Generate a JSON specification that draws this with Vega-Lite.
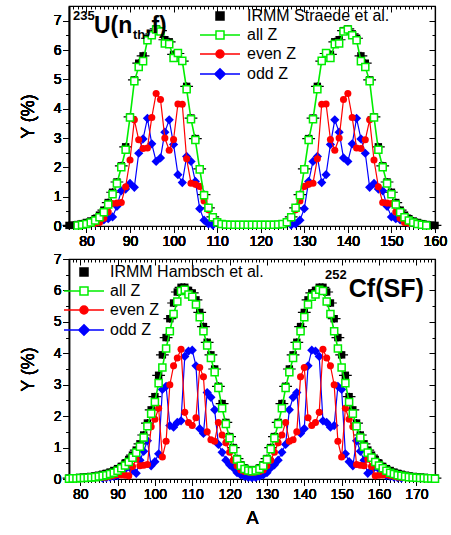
{
"$schema":"https://vega.github.io/schema/vega-lite/v6.json",
"padding":{"left":18,"top":4,"right":5,"bottom":5},
"bounds":"flush",
"spacing":33,
"config":{"view":{"stroke":"black","strokeWidth":1.2},"font":"Liberation Sans",
"axis":{"domainColor":"black","tickColor":"black","labelColor":"black","titleColor":"black","grid":false,"labelFont":"Liberation Sans","titleFont":"Liberation Sans","labelFontSize":14,"titleFontSize":18,"titleFontWeight":"normal","domainWidth":1.2,"tickWidth":1}},
"datasets":{
"top":[
{"s":"I","A":76,"Y":0.02},{"s":"I","A":77,"Y":0.03},{"s":"I","A":78,"Y":0.05},{"s":"I","A":79,"Y":0.08},{"s":"I","A":80,"Y":0.12},{"s":"I","A":81,"Y":0.17},{"s":"I","A":82,"Y":0.25},{"s":"I","A":83,"Y":0.37},{"s":"I","A":84,"Y":0.54},{"s":"I","A":85,"Y":0.8},{"s":"I","A":86,"Y":1.15},{"s":"I","A":87,"Y":1.5},{"s":"I","A":88,"Y":2.05},{"s":"I","A":89,"Y":2.7},{"s":"I","A":90,"Y":3.72},{"s":"I","A":91,"Y":4.98},{"s":"I","A":92,"Y":5.55},{"s":"I","A":93,"Y":5.8},{"s":"I","A":94,"Y":6.4},{"s":"I","A":95,"Y":6.55},{"s":"I","A":96,"Y":6.72},{"s":"I","A":97,"Y":6.66},{"s":"I","A":98,"Y":6.35},{"s":"I","A":99,"Y":6.28},{"s":"I","A":100,"Y":5.85},{"s":"I","A":101,"Y":5.88},{"s":"I","A":102,"Y":5.62},{"s":"I","A":103,"Y":4.76},{"s":"I","A":104,"Y":3.68},{"s":"I","A":105,"Y":2.98},{"s":"I","A":106,"Y":1.95},{"s":"I","A":107,"Y":1.07},{"s":"I","A":108,"Y":0.62},{"s":"I","A":109,"Y":0.31},{"s":"I","A":110,"Y":0.14},{"s":"I","A":111,"Y":0.07},{"s":"I","A":112,"Y":0.04},{"s":"I","A":113,"Y":0.03},{"s":"I","A":114,"Y":0.03},{"s":"I","A":115,"Y":0.03},{"s":"I","A":116,"Y":0.03},{"s":"I","A":117,"Y":0.03},{"s":"I","A":118,"Y":0.03},{"s":"I","A":119,"Y":0.03},{"s":"I","A":120,"Y":0.03},{"s":"I","A":121,"Y":0.03},{"s":"I","A":122,"Y":0.03},{"s":"I","A":123,"Y":0.03},{"s":"I","A":124,"Y":0.04},{"s":"I","A":125,"Y":0.07},{"s":"I","A":126,"Y":0.14},{"s":"I","A":127,"Y":0.31},{"s":"I","A":128,"Y":0.62},{"s":"I","A":129,"Y":1.07},{"s":"I","A":130,"Y":1.95},{"s":"I","A":131,"Y":2.98},{"s":"I","A":132,"Y":3.68},{"s":"I","A":133,"Y":4.76},{"s":"I","A":134,"Y":5.62},{"s":"I","A":135,"Y":5.88},{"s":"I","A":136,"Y":5.85},{"s":"I","A":137,"Y":6.28},{"s":"I","A":138,"Y":6.35},{"s":"I","A":139,"Y":6.66},{"s":"I","A":140,"Y":6.72},{"s":"I","A":141,"Y":6.55},{"s":"I","A":142,"Y":6.4},{"s":"I","A":143,"Y":5.8},{"s":"I","A":144,"Y":5.55},{"s":"I","A":145,"Y":4.98},{"s":"I","A":146,"Y":3.72},{"s":"I","A":147,"Y":2.7},{"s":"I","A":148,"Y":2.05},{"s":"I","A":149,"Y":1.5},{"s":"I","A":150,"Y":1.15},{"s":"I","A":151,"Y":0.8},{"s":"I","A":152,"Y":0.54},{"s":"I","A":153,"Y":0.37},{"s":"I","A":154,"Y":0.25},{"s":"I","A":155,"Y":0.17},{"s":"I","A":156,"Y":0.12},{"s":"I","A":157,"Y":0.08},{"s":"I","A":158,"Y":0.05},{"s":"I","A":159,"Y":0.03},{"s":"I","A":160,"Y":0.02},
{"s":"a","A":78,"Y":0.02},{"s":"a","A":79,"Y":0.04},{"s":"a","A":80,"Y":0.07},{"s":"a","A":81,"Y":0.12},{"s":"a","A":82,"Y":0.19},{"s":"a","A":83,"Y":0.3},{"s":"a","A":84,"Y":0.47},{"s":"a","A":85,"Y":0.73},{"s":"a","A":86,"Y":1.08},{"s":"a","A":87,"Y":1.45},{"s":"a","A":88,"Y":2.0},{"s":"a","A":89,"Y":2.6},{"s":"a","A":90,"Y":3.7},{"s":"a","A":91,"Y":4.94},{"s":"a","A":92,"Y":5.42},{"s":"a","A":93,"Y":5.62},{"s":"a","A":94,"Y":6.33},{"s":"a","A":95,"Y":6.5},{"s":"a","A":96,"Y":6.7},{"s":"a","A":97,"Y":6.63},{"s":"a","A":98,"Y":6.22},{"s":"a","A":99,"Y":6.2},{"s":"a","A":100,"Y":5.73},{"s":"a","A":101,"Y":5.9},{"s":"a","A":102,"Y":5.63},{"s":"a","A":103,"Y":4.66},{"s":"a","A":104,"Y":3.64},{"s":"a","A":105,"Y":2.93},{"s":"a","A":106,"Y":1.93},{"s":"a","A":107,"Y":1.05},{"s":"a","A":108,"Y":0.62},{"s":"a","A":109,"Y":0.3},{"s":"a","A":110,"Y":0.13},{"s":"a","A":111,"Y":0.07},{"s":"a","A":112,"Y":0.05},{"s":"a","A":113,"Y":0.04},{"s":"a","A":114,"Y":0.04},{"s":"a","A":115,"Y":0.04},{"s":"a","A":116,"Y":0.04},{"s":"a","A":117,"Y":0.04},{"s":"a","A":118,"Y":0.04},{"s":"a","A":119,"Y":0.04},{"s":"a","A":120,"Y":0.04},{"s":"a","A":121,"Y":0.04},{"s":"a","A":122,"Y":0.04},{"s":"a","A":123,"Y":0.04},{"s":"a","A":124,"Y":0.05},{"s":"a","A":125,"Y":0.07},{"s":"a","A":126,"Y":0.13},{"s":"a","A":127,"Y":0.3},{"s":"a","A":128,"Y":0.62},{"s":"a","A":129,"Y":1.05},{"s":"a","A":130,"Y":1.93},{"s":"a","A":131,"Y":2.93},{"s":"a","A":132,"Y":3.64},{"s":"a","A":133,"Y":4.66},{"s":"a","A":134,"Y":5.63},{"s":"a","A":135,"Y":5.9},{"s":"a","A":136,"Y":5.73},{"s":"a","A":137,"Y":6.2},{"s":"a","A":138,"Y":6.22},{"s":"a","A":139,"Y":6.63},{"s":"a","A":140,"Y":6.7},{"s":"a","A":141,"Y":6.5},{"s":"a","A":142,"Y":6.33},{"s":"a","A":143,"Y":5.62},{"s":"a","A":144,"Y":5.42},{"s":"a","A":145,"Y":4.94},{"s":"a","A":146,"Y":3.7},{"s":"a","A":147,"Y":2.6},{"s":"a","A":148,"Y":2.0},{"s":"a","A":149,"Y":1.45},{"s":"a","A":150,"Y":1.08},{"s":"a","A":151,"Y":0.73},{"s":"a","A":152,"Y":0.47},{"s":"a","A":153,"Y":0.3},{"s":"a","A":154,"Y":0.19},{"s":"a","A":155,"Y":0.12},{"s":"a","A":156,"Y":0.07},{"s":"a","A":157,"Y":0.04},{"s":"a","A":158,"Y":0.02},
{"s":"e","A":82,"Y":0.09},{"s":"e","A":83,"Y":0.12},{"s":"e","A":84,"Y":0.26},{"s":"e","A":85,"Y":0.48},{"s":"e","A":86,"Y":0.77},{"s":"e","A":87,"Y":0.78},{"s":"e","A":88,"Y":0.8},{"s":"e","A":89,"Y":1.34},{"s":"e","A":90,"Y":2.25},{"s":"e","A":91,"Y":3.62},{"s":"e","A":92,"Y":2.94},{"s":"e","A":93,"Y":2.64},{"s":"e","A":94,"Y":2.66},{"s":"e","A":95,"Y":3.7},{"s":"e","A":96,"Y":4.52},{"s":"e","A":97,"Y":4.31},{"s":"e","A":98,"Y":3.0},{"s":"e","A":99,"Y":2.58},{"s":"e","A":100,"Y":2.95},{"s":"e","A":101,"Y":4.16},{"s":"e","A":102,"Y":4.15},{"s":"e","A":103,"Y":2.29},{"s":"e","A":104,"Y":1.46},{"s":"e","A":105,"Y":1.42},{"s":"e","A":106,"Y":1.35},{"s":"e","A":107,"Y":0.85},{"s":"e","A":108,"Y":0.55},{"s":"e","A":109,"Y":0.27},{"s":"e","A":110,"Y":0.11},
{"s":"e","A":126,"Y":0.11},{"s":"e","A":127,"Y":0.27},{"s":"e","A":128,"Y":0.55},{"s":"e","A":129,"Y":0.85},{"s":"e","A":130,"Y":1.35},{"s":"e","A":131,"Y":1.42},{"s":"e","A":132,"Y":1.46},{"s":"e","A":133,"Y":2.29},{"s":"e","A":134,"Y":4.15},{"s":"e","A":135,"Y":4.16},{"s":"e","A":136,"Y":2.95},{"s":"e","A":137,"Y":2.58},{"s":"e","A":138,"Y":3.0},{"s":"e","A":139,"Y":4.31},{"s":"e","A":140,"Y":4.52},{"s":"e","A":141,"Y":3.7},{"s":"e","A":142,"Y":2.66},{"s":"e","A":143,"Y":2.64},{"s":"e","A":144,"Y":2.94},{"s":"e","A":145,"Y":3.62},{"s":"e","A":146,"Y":2.25},{"s":"e","A":147,"Y":1.34},{"s":"e","A":148,"Y":0.8},{"s":"e","A":149,"Y":0.78},{"s":"e","A":150,"Y":0.77},{"s":"e","A":151,"Y":0.48},{"s":"e","A":152,"Y":0.26},{"s":"e","A":153,"Y":0.12},{"s":"e","A":154,"Y":0.09},
{"s":"o","A":82,"Y":0.1},{"s":"o","A":83,"Y":0.18},{"s":"o","A":84,"Y":0.21},{"s":"o","A":85,"Y":0.25},{"s":"o","A":86,"Y":0.31},{"s":"o","A":87,"Y":0.67},{"s":"o","A":88,"Y":1.2},{"s":"o","A":89,"Y":1.26},{"s":"o","A":90,"Y":1.45},{"s":"o","A":91,"Y":1.32},{"s":"o","A":92,"Y":2.48},{"s":"o","A":93,"Y":2.97},{"s":"o","A":94,"Y":3.67},{"s":"o","A":95,"Y":2.8},{"s":"o","A":96,"Y":2.2},{"s":"o","A":97,"Y":2.32},{"s":"o","A":98,"Y":3.2},{"s":"o","A":99,"Y":3.62},{"s":"o","A":100,"Y":2.78},{"s":"o","A":101,"Y":1.75},{"s":"o","A":102,"Y":1.48},{"s":"o","A":103,"Y":2.37},{"s":"o","A":104,"Y":2.2},{"s":"o","A":105,"Y":1.52},{"s":"o","A":106,"Y":0.59},{"s":"o","A":107,"Y":0.2},{"s":"o","A":108,"Y":0.07},{"s":"o","A":109,"Y":0.03},
{"s":"o","A":127,"Y":0.03},{"s":"o","A":128,"Y":0.07},{"s":"o","A":129,"Y":0.2},{"s":"o","A":130,"Y":0.59},{"s":"o","A":131,"Y":1.52},{"s":"o","A":132,"Y":2.2},{"s":"o","A":133,"Y":2.37},{"s":"o","A":134,"Y":1.48},{"s":"o","A":135,"Y":1.75},{"s":"o","A":136,"Y":2.78},{"s":"o","A":137,"Y":3.62},{"s":"o","A":138,"Y":3.2},{"s":"o","A":139,"Y":2.32},{"s":"o","A":140,"Y":2.2},{"s":"o","A":141,"Y":2.8},{"s":"o","A":142,"Y":3.67},{"s":"o","A":143,"Y":2.97},{"s":"o","A":144,"Y":2.48},{"s":"o","A":145,"Y":1.32},{"s":"o","A":146,"Y":1.45},{"s":"o","A":147,"Y":1.26},{"s":"o","A":148,"Y":1.2},{"s":"o","A":149,"Y":0.67},{"s":"o","A":150,"Y":0.31},{"s":"o","A":151,"Y":0.25},{"s":"o","A":152,"Y":0.21},{"s":"o","A":153,"Y":0.18},{"s":"o","A":154,"Y":0.1}
],
"bot":[
{"s":"I","A":77,"Y":0.03},{"s":"I","A":78,"Y":0.03},{"s":"I","A":79,"Y":0.04},{"s":"I","A":80,"Y":0.05},{"s":"I","A":81,"Y":0.06},{"s":"I","A":82,"Y":0.07},{"s":"I","A":83,"Y":0.08},{"s":"I","A":84,"Y":0.1},{"s":"I","A":85,"Y":0.12},{"s":"I","A":86,"Y":0.15},{"s":"I","A":87,"Y":0.18},{"s":"I","A":88,"Y":0.22},{"s":"I","A":89,"Y":0.27},{"s":"I","A":90,"Y":0.33},{"s":"I","A":91,"Y":0.4},{"s":"I","A":92,"Y":0.5},{"s":"I","A":93,"Y":0.62},{"s":"I","A":94,"Y":0.76},{"s":"I","A":95,"Y":0.92},{"s":"I","A":96,"Y":1.12},{"s":"I","A":97,"Y":1.4},{"s":"I","A":98,"Y":1.78},{"s":"I","A":99,"Y":2.2},{"s":"I","A":100,"Y":2.62},{"s":"I","A":101,"Y":3.3},{"s":"I","A":102,"Y":3.95},{"s":"I","A":103,"Y":4.5},{"s":"I","A":104,"Y":5.1},{"s":"I","A":105,"Y":5.6},{"s":"I","A":106,"Y":5.95},{"s":"I","A":107,"Y":6.1},{"s":"I","A":108,"Y":6.1},{"s":"I","A":109,"Y":6.0},{"s":"I","A":110,"Y":5.92},{"s":"I","A":111,"Y":5.7},{"s":"I","A":112,"Y":5.3},{"s":"I","A":113,"Y":4.85},{"s":"I","A":114,"Y":4.35},{"s":"I","A":115,"Y":3.95},{"s":"I","A":116,"Y":3.5},{"s":"I","A":117,"Y":2.95},{"s":"I","A":118,"Y":2.4},{"s":"I","A":119,"Y":1.8},{"s":"I","A":120,"Y":1.35},{"s":"I","A":121,"Y":1.0},{"s":"I","A":122,"Y":0.65},{"s":"I","A":123,"Y":0.45},{"s":"I","A":124,"Y":0.35},{"s":"I","A":125,"Y":0.3},{"s":"I","A":126,"Y":0.28},{"s":"I","A":127,"Y":0.3},{"s":"I","A":128,"Y":0.35},{"s":"I","A":129,"Y":0.45},{"s":"I","A":130,"Y":0.65},{"s":"I","A":131,"Y":1.0},{"s":"I","A":132,"Y":1.35},{"s":"I","A":133,"Y":1.8},{"s":"I","A":134,"Y":2.4},{"s":"I","A":135,"Y":2.95},{"s":"I","A":136,"Y":3.5},{"s":"I","A":137,"Y":3.95},{"s":"I","A":138,"Y":4.35},{"s":"I","A":139,"Y":4.85},{"s":"I","A":140,"Y":5.3},{"s":"I","A":141,"Y":5.7},{"s":"I","A":142,"Y":5.92},{"s":"I","A":143,"Y":6.0},{"s":"I","A":144,"Y":6.1},{"s":"I","A":145,"Y":6.1},{"s":"I","A":146,"Y":5.95},{"s":"I","A":147,"Y":5.6},{"s":"I","A":148,"Y":5.1},{"s":"I","A":149,"Y":4.5},{"s":"I","A":150,"Y":3.95},{"s":"I","A":151,"Y":3.3},{"s":"I","A":152,"Y":2.62},{"s":"I","A":153,"Y":2.2},{"s":"I","A":154,"Y":1.78},{"s":"I","A":155,"Y":1.4},{"s":"I","A":156,"Y":1.12},{"s":"I","A":157,"Y":0.92},{"s":"I","A":158,"Y":0.76},{"s":"I","A":159,"Y":0.62},{"s":"I","A":160,"Y":0.5},{"s":"I","A":161,"Y":0.4},{"s":"I","A":162,"Y":0.33},{"s":"I","A":163,"Y":0.27},{"s":"I","A":164,"Y":0.22},{"s":"I","A":165,"Y":0.18},{"s":"I","A":166,"Y":0.15},{"s":"I","A":167,"Y":0.12},{"s":"I","A":168,"Y":0.1},{"s":"I","A":169,"Y":0.08},{"s":"I","A":170,"Y":0.07},{"s":"I","A":171,"Y":0.06},{"s":"I","A":172,"Y":0.05},{"s":"I","A":173,"Y":0.04},{"s":"I","A":174,"Y":0.03},{"s":"I","A":175,"Y":0.03},
{"s":"a","A":77,"Y":0.01},{"s":"a","A":78,"Y":0.02},{"s":"a","A":79,"Y":0.02},{"s":"a","A":80,"Y":0.03},{"s":"a","A":81,"Y":0.03},{"s":"a","A":82,"Y":0.04},{"s":"a","A":83,"Y":0.05},{"s":"a","A":84,"Y":0.06},{"s":"a","A":85,"Y":0.08},{"s":"a","A":86,"Y":0.1},{"s":"a","A":87,"Y":0.12},{"s":"a","A":88,"Y":0.16},{"s":"a","A":89,"Y":0.2},{"s":"a","A":90,"Y":0.26},{"s":"a","A":91,"Y":0.34},{"s":"a","A":92,"Y":0.43},{"s":"a","A":93,"Y":0.54},{"s":"a","A":94,"Y":0.68},{"s":"a","A":95,"Y":0.84},{"s":"a","A":96,"Y":1.03},{"s":"a","A":97,"Y":1.32},{"s":"a","A":98,"Y":1.68},{"s":"a","A":99,"Y":2.08},{"s":"a","A":100,"Y":2.45},{"s":"a","A":101,"Y":3.05},{"s":"a","A":102,"Y":3.55},{"s":"a","A":103,"Y":4.15},{"s":"a","A":104,"Y":4.7},{"s":"a","A":105,"Y":5.25},{"s":"a","A":106,"Y":5.65},{"s":"a","A":107,"Y":5.98},{"s":"a","A":108,"Y":6.02},{"s":"a","A":109,"Y":5.87},{"s":"a","A":110,"Y":5.8},{"s":"a","A":111,"Y":5.55},{"s":"a","A":112,"Y":5.15},{"s":"a","A":113,"Y":4.7},{"s":"a","A":114,"Y":4.25},{"s":"a","A":115,"Y":3.85},{"s":"a","A":116,"Y":3.4},{"s":"a","A":117,"Y":2.9},{"s":"a","A":118,"Y":2.25},{"s":"a","A":119,"Y":1.75},{"s":"a","A":120,"Y":1.3},{"s":"a","A":121,"Y":0.95},{"s":"a","A":122,"Y":0.62},{"s":"a","A":123,"Y":0.42},{"s":"a","A":124,"Y":0.32},{"s":"a","A":125,"Y":0.27},{"s":"a","A":126,"Y":0.25},{"s":"a","A":127,"Y":0.27},{"s":"a","A":128,"Y":0.32},{"s":"a","A":129,"Y":0.42},{"s":"a","A":130,"Y":0.62},{"s":"a","A":131,"Y":0.95},{"s":"a","A":132,"Y":1.3},{"s":"a","A":133,"Y":1.75},{"s":"a","A":134,"Y":2.25},{"s":"a","A":135,"Y":2.9},{"s":"a","A":136,"Y":3.4},{"s":"a","A":137,"Y":3.85},{"s":"a","A":138,"Y":4.25},{"s":"a","A":139,"Y":4.7},{"s":"a","A":140,"Y":5.15},{"s":"a","A":141,"Y":5.55},{"s":"a","A":142,"Y":5.8},{"s":"a","A":143,"Y":5.87},{"s":"a","A":144,"Y":6.02},{"s":"a","A":145,"Y":5.98},{"s":"a","A":146,"Y":5.65},{"s":"a","A":147,"Y":5.25},{"s":"a","A":148,"Y":4.7},{"s":"a","A":149,"Y":4.15},{"s":"a","A":150,"Y":3.55},{"s":"a","A":151,"Y":3.05},{"s":"a","A":152,"Y":2.45},{"s":"a","A":153,"Y":2.08},{"s":"a","A":154,"Y":1.68},{"s":"a","A":155,"Y":1.32},{"s":"a","A":156,"Y":1.03},{"s":"a","A":157,"Y":0.84},{"s":"a","A":158,"Y":0.68},{"s":"a","A":159,"Y":0.54},{"s":"a","A":160,"Y":0.43},{"s":"a","A":161,"Y":0.34},{"s":"a","A":162,"Y":0.26},{"s":"a","A":163,"Y":0.2},{"s":"a","A":164,"Y":0.16},{"s":"a","A":165,"Y":0.12},{"s":"a","A":166,"Y":0.1},{"s":"a","A":167,"Y":0.08},{"s":"a","A":168,"Y":0.06},{"s":"a","A":169,"Y":0.05},{"s":"a","A":170,"Y":0.04},{"s":"a","A":171,"Y":0.03},{"s":"a","A":172,"Y":0.03},{"s":"a","A":173,"Y":0.02},{"s":"a","A":174,"Y":0.02},{"s":"a","A":175,"Y":0.01},
{"s":"e","A":86,"Y":0.05},{"s":"e","A":87,"Y":0.06},{"s":"e","A":88,"Y":0.09},{"s":"e","A":89,"Y":0.11},{"s":"e","A":90,"Y":0.14},{"s":"e","A":91,"Y":0.13},{"s":"e","A":92,"Y":0.12},{"s":"e","A":93,"Y":0.1},{"s":"e","A":94,"Y":0.4},{"s":"e","A":95,"Y":0.63},{"s":"e","A":96,"Y":0.42},{"s":"e","A":97,"Y":0.44},{"s":"e","A":98,"Y":0.46},{"s":"e","A":99,"Y":1.66},{"s":"e","A":100,"Y":1.9},{"s":"e","A":101,"Y":2.25},{"s":"e","A":102,"Y":0.7},{"s":"e","A":103,"Y":1.2},{"s":"e","A":104,"Y":3.0},{"s":"e","A":105,"Y":3.6},{"s":"e","A":106,"Y":3.85},{"s":"e","A":107,"Y":4.13},{"s":"e","A":108,"Y":2.12},{"s":"e","A":109,"Y":1.8},{"s":"e","A":110,"Y":1.7},{"s":"e","A":111,"Y":1.95},{"s":"e","A":112,"Y":3.55},{"s":"e","A":113,"Y":3.25},{"s":"e","A":114,"Y":1.5},{"s":"e","A":115,"Y":1.25},{"s":"e","A":116,"Y":1.2},{"s":"e","A":117,"Y":1.8},{"s":"e","A":118,"Y":1.4},{"s":"e","A":119,"Y":1.15},{"s":"e","A":120,"Y":0.85},{"s":"e","A":121,"Y":0.6},{"s":"e","A":122,"Y":0.42},{"s":"e","A":123,"Y":0.29},{"s":"e","A":124,"Y":0.24},{"s":"e","A":125,"Y":0.22},{"s":"e","A":126,"Y":0.21},{"s":"e","A":127,"Y":0.22},{"s":"e","A":128,"Y":0.24},{"s":"e","A":129,"Y":0.29},{"s":"e","A":130,"Y":0.42},{"s":"e","A":131,"Y":0.6},{"s":"e","A":132,"Y":0.85},{"s":"e","A":133,"Y":1.15},{"s":"e","A":134,"Y":1.4},{"s":"e","A":135,"Y":1.8},{"s":"e","A":136,"Y":1.2},{"s":"e","A":137,"Y":1.25},{"s":"e","A":138,"Y":1.5},{"s":"e","A":139,"Y":3.25},{"s":"e","A":140,"Y":3.55},{"s":"e","A":141,"Y":1.95},{"s":"e","A":142,"Y":1.7},{"s":"e","A":143,"Y":1.8},{"s":"e","A":144,"Y":2.12},{"s":"e","A":145,"Y":4.13},{"s":"e","A":146,"Y":3.85},{"s":"e","A":147,"Y":3.6},{"s":"e","A":148,"Y":3.0},{"s":"e","A":149,"Y":1.2},{"s":"e","A":150,"Y":0.7},{"s":"e","A":151,"Y":2.25},{"s":"e","A":152,"Y":1.9},{"s":"e","A":153,"Y":1.66},{"s":"e","A":154,"Y":0.46},{"s":"e","A":155,"Y":0.44},{"s":"e","A":156,"Y":0.42},{"s":"e","A":157,"Y":0.63},{"s":"e","A":158,"Y":0.4},{"s":"e","A":159,"Y":0.1},{"s":"e","A":160,"Y":0.12},{"s":"e","A":161,"Y":0.13},{"s":"e","A":162,"Y":0.14},{"s":"e","A":163,"Y":0.11},{"s":"e","A":164,"Y":0.09},{"s":"e","A":165,"Y":0.06},{"s":"e","A":166,"Y":0.05},
{"s":"o","A":86,"Y":0.03},{"s":"o","A":87,"Y":0.04},{"s":"o","A":88,"Y":0.06},{"s":"o","A":89,"Y":0.08},{"s":"o","A":90,"Y":0.11},{"s":"o","A":91,"Y":0.2},{"s":"o","A":92,"Y":0.31},{"s":"o","A":93,"Y":0.42},{"s":"o","A":94,"Y":0.28},{"s":"o","A":95,"Y":0.18},{"s":"o","A":96,"Y":0.6},{"s":"o","A":97,"Y":0.88},{"s":"o","A":98,"Y":1.22},{"s":"o","A":99,"Y":0.42},{"s":"o","A":100,"Y":0.55},{"s":"o","A":101,"Y":0.8},{"s":"o","A":102,"Y":2.85},{"s":"o","A":103,"Y":2.95},{"s":"o","A":104,"Y":1.7},{"s":"o","A":105,"Y":1.65},{"s":"o","A":106,"Y":1.8},{"s":"o","A":107,"Y":1.85},{"s":"o","A":108,"Y":3.9},{"s":"o","A":109,"Y":4.07},{"s":"o","A":110,"Y":4.1},{"s":"o","A":111,"Y":3.6},{"s":"o","A":112,"Y":1.6},{"s":"o","A":113,"Y":1.45},{"s":"o","A":114,"Y":2.75},{"s":"o","A":115,"Y":2.6},{"s":"o","A":116,"Y":2.2},{"s":"o","A":117,"Y":1.1},{"s":"o","A":118,"Y":0.85},{"s":"o","A":119,"Y":0.6},{"s":"o","A":120,"Y":0.45},{"s":"o","A":121,"Y":0.35},{"s":"o","A":122,"Y":0.2},{"s":"o","A":123,"Y":0.13},{"s":"o","A":124,"Y":0.08},{"s":"o","A":125,"Y":0.05},{"s":"o","A":126,"Y":0.04},{"s":"o","A":127,"Y":0.05},{"s":"o","A":128,"Y":0.08},{"s":"o","A":129,"Y":0.13},{"s":"o","A":130,"Y":0.2},{"s":"o","A":131,"Y":0.35},{"s":"o","A":132,"Y":0.45},{"s":"o","A":133,"Y":0.6},{"s":"o","A":134,"Y":0.85},{"s":"o","A":135,"Y":1.1},{"s":"o","A":136,"Y":2.2},{"s":"o","A":137,"Y":2.6},{"s":"o","A":138,"Y":2.75},{"s":"o","A":139,"Y":1.45},{"s":"o","A":140,"Y":1.6},{"s":"o","A":141,"Y":3.6},{"s":"o","A":142,"Y":4.1},{"s":"o","A":143,"Y":4.07},{"s":"o","A":144,"Y":3.9},{"s":"o","A":145,"Y":1.85},{"s":"o","A":146,"Y":1.8},{"s":"o","A":147,"Y":1.65},{"s":"o","A":148,"Y":1.7},{"s":"o","A":149,"Y":2.95},{"s":"o","A":150,"Y":2.85},{"s":"o","A":151,"Y":0.8},{"s":"o","A":152,"Y":0.55},{"s":"o","A":153,"Y":0.42},{"s":"o","A":154,"Y":1.22},{"s":"o","A":155,"Y":0.88},{"s":"o","A":156,"Y":0.6},{"s":"o","A":157,"Y":0.18},{"s":"o","A":158,"Y":0.28},{"s":"o","A":159,"Y":0.42},{"s":"o","A":160,"Y":0.31},{"s":"o","A":161,"Y":0.2},{"s":"o","A":162,"Y":0.11},{"s":"o","A":163,"Y":0.08},{"s":"o","A":164,"Y":0.06},{"s":"o","A":165,"Y":0.04},{"s":"o","A":166,"Y":0.03}
]},
"vconcat":[
{
"width":366,"height":220,
"layer":[
{
"data":{"name":"top"},
"encoding":{
"x":{"field":"A","type":"quantitative","scale":{"domain":[76,160],"nice":false,"zero":false},
 "axis":{"orient":"bottom","values":[76,77,78,79,80,81,82,83,84,85,86,87,88,89,90,91,92,93,94,95,96,97,98,99,100,101,102,103,104,105,106,107,108,109,110,111,112,113,114,115,116,117,118,119,120,121,122,123,124,125,126,127,128,129,130,131,132,133,134,135,136,137,138,139,140,141,142,143,144,145,146,147,148,149,150,151,152,153,154,155,156,157,158,159,160],
 "labelExpr":"datum.value % 10 == 0 ? format(datum.value, 'd') : ''","tickSize":{"condition":{"test":"datum.value % 10 == 0","value":6},"value":3},"labelOverlap":false,"labelFlush":false,"labelPadding":2,"title":null}},
"y":{"field":"Y","type":"quantitative","scale":{"domain":[0,7.5],"nice":false,"zero":false},
 "axis":{"orient":"left","values":[0,0.5,1,1.5,2,2.5,3,3.5,4,4.5,5,5.5,6,6.5,7],"labelExpr":"datum.value % 1 == 0 ? format(datum.value, 'd') : ''","tickSize":{"condition":{"test":"datum.value % 1 == 0","value":6},"value":3},"labelOverlap":false,"labelFlush":false,"labelPadding":2,"title":"Y (%)","titlePadding":16}}
},
"layer":[
{"transform":[{"filter":"datum.s=='I'"}],"mark":{"type":"point","shape":"M-1.6,0H1.6M0,-1V1","filled":false,"color":"black","size":64,"strokeWidth":1.2,"opacity":1},
 "encoding":{
  "x":{"field":"A","type":"quantitative","scale":{"domain":[76,160],"nice":false,"zero":false},"axis":{"orient":"top","values":[76,77,78,79,80,81,82,83,84,85,86,87,88,89,90,91,92,93,94,95,96,97,98,99,100,101,102,103,104,105,106,107,108,109,110,111,112,113,114,115,116,117,118,119,120,121,122,123,124,125,126,127,128,129,130,131,132,133,134,135,136,137,138,139,140,141,142,143,144,145,146,147,148,149,150,151,152,153,154,155,156,157,158,159,160],"labels":false,"tickSize":{"condition":{"test":"datum.value % 10 == 0","value":-6},"value":-3},"title":null}},
  "y":{"field":"Y","type":"quantitative","scale":{"domain":[0,7.5],"nice":false,"zero":false},"axis":{"orient":"right","values":[0,0.5,1,1.5,2,2.5,3,3.5,4,4.5,5,5.5,6,6.5,7],"labels":false,"tickSize":{"condition":{"test":"datum.value % 1 == 0","value":-6},"value":-3},"title":null}}}},
{"transform":[{"filter":"datum.s=='I'"}],"mark":{"type":"point","shape":"square","filled":true,"color":"black","size":55,"opacity":1}},
{"transform":[{"filter":"datum.s=='o' && datum.A < 118"}],"mark":{"type":"line","color":"blue","strokeWidth":1.2,"point":{"shape":"diamond","filled":true,"color":"blue","size":85,"opacity":1}}},
{"transform":[{"filter":"datum.s=='o' && datum.A > 118"}],"mark":{"type":"line","color":"blue","strokeWidth":1.2,"point":{"shape":"diamond","filled":true,"color":"blue","size":85,"opacity":1}}},
{"transform":[{"filter":"datum.s=='e' && datum.A < 118"}],"mark":{"type":"line","color":"red","strokeWidth":1.2,"point":{"shape":"circle","filled":true,"color":"red","size":50,"opacity":1}}},
{"transform":[{"filter":"datum.s=='e' && datum.A > 118"}],"mark":{"type":"line","color":"red","strokeWidth":1.2,"point":{"shape":"circle","filled":true,"color":"red","size":50,"opacity":1}}},
{"transform":[{"filter":"datum.s=='a'"}],"mark":{"type":"line","color":"#00ee00","strokeWidth":1.6,"point":{"shape":"square","filled":false,"color":"#00ee00","fill":"white","size":50,"strokeWidth":1.5,"opacity":1}}},
{"transform":[{"filter":"datum.A == 100"}],"mark":{"type":"point","opacity":0,"filled":true},
 "encoding":{
  "fill":{"field":"s","type":"nominal","scale":{"domain":["I","a","e","o"],"range":["black","white","red","blue"]},
   "legend":{"title":null,"orient":"none","legendX":143,"legendY":2,"labelFont":"Liberation Sans","labelFontSize":16,"labelColor":"black","symbolSize":64,"symbolStrokeWidth":1.5,"symbolOpacity":1,"labelOffset":19,"rowPadding":3,"labelExpr":"datum.label == 'I' ? 'IRMM Straede et al.' : datum.label == 'a' ? 'all Z' : datum.label == 'e' ? 'even Z' : 'odd Z'"}},
  "stroke":{"field":"s","type":"nominal","scale":{"domain":["I","a","e","o"],"range":["black","#00ee00","red","blue"]},
   "legend":{"title":null,"orient":"none","legendX":143,"legendY":2,"labelFont":"Liberation Sans","labelFontSize":16,"labelColor":"black","symbolSize":64,"symbolStrokeWidth":1.5,"symbolOpacity":1,"labelOffset":19,"rowPadding":3,"labelExpr":"datum.label == 'I' ? 'IRMM Straede et al.' : datum.label == 'a' ? 'all Z' : datum.label == 'e' ? 'even Z' : 'odd Z'"}},
  "shape":{"field":"s","type":"nominal","scale":{"domain":["I","a","e","o"],"range":["M-1,-1H1V1H-1Z","M-5,0H-1M1,0H5M-1,-1H1V1H-1Z","M-5,0H-1M1,0H5M-1,0A1,1 0 1,1 1,0A1,1 0 1,1 -1,0Z","M-5,0H-1.3M1.3,0H5M0,-1.3L1.3,0L0,1.3L-1.3,0Z"]},
   "legend":{"title":null,"orient":"none","legendX":143,"legendY":2,"labelFont":"Liberation Sans","labelFontSize":16,"labelColor":"black","symbolSize":64,"symbolStrokeWidth":1.5,"symbolOpacity":1,"labelOffset":19,"rowPadding":3,"labelExpr":"datum.label == 'I' ? 'IRMM Straede et al.' : datum.label == 'a' ? 'all Z' : datum.label == 'e' ? 'even Z' : 'odd Z'"}}}}
]
},
{"data":{"values":[{"t":"235"}]},"mark":{"type":"text","align":"left","baseline":"alphabetic","fontSize":13,"fontWeight":"bold","dx":4,"color":"black"},
 "encoding":{"x":{"datum":76,"type":"quantitative","axis":null},"y":{"datum":7.02,"type":"quantitative","axis":null},"text":{"field":"t"}}},
{"data":{"values":[{"t":"U(n"}]},"mark":{"type":"text","align":"left","baseline":"alphabetic","fontSize":23,"fontWeight":"bold","dx":25,"color":"black"},
 "encoding":{"x":{"datum":76,"type":"quantitative","axis":null},"y":{"datum":6.57,"type":"quantitative","axis":null},"text":{"field":"t"}}},
{"data":{"values":[{"t":"th"}]},"mark":{"type":"text","align":"left","baseline":"alphabetic","fontSize":13,"fontWeight":"bold","dx":64,"color":"black"},
 "encoding":{"x":{"datum":76,"type":"quantitative","axis":null},"y":{"datum":6.38,"type":"quantitative","axis":null},"text":{"field":"t"}}},
{"data":{"values":[{"t":",f)"}]},"mark":{"type":"text","align":"left","baseline":"alphabetic","fontSize":23,"fontWeight":"bold","dx":76,"color":"black"},
 "encoding":{"x":{"datum":76,"type":"quantitative","axis":null},"y":{"datum":6.57,"type":"quantitative","axis":null},"text":{"field":"t"}}}
]
},
{
"width":366,"height":220,
"layer":[
{
"data":{"name":"bot"},
"encoding":{
"x":{"field":"A","type":"quantitative","scale":{"domain":[77,175],"nice":false,"zero":false},
 "axis":{"orient":"bottom","values":[77,78,79,80,81,82,83,84,85,86,87,88,89,90,91,92,93,94,95,96,97,98,99,100,101,102,103,104,105,106,107,108,109,110,111,112,113,114,115,116,117,118,119,120,121,122,123,124,125,126,127,128,129,130,131,132,133,134,135,136,137,138,139,140,141,142,143,144,145,146,147,148,149,150,151,152,153,154,155,156,157,158,159,160,161,162,163,164,165,166,167,168,169,170,171,172,173,174,175],
 "labelExpr":"datum.value % 10 == 0 ? format(datum.value, 'd') : ''","tickSize":{"condition":{"test":"datum.value % 10 == 0","value":6},"value":3},"labelOverlap":false,"labelFlush":false,"labelPadding":2,"title":"A","titlePadding":8}},
"y":{"field":"Y","type":"quantitative","scale":{"domain":[0,7],"nice":false,"zero":false},
 "axis":{"orient":"left","values":[0,0.5,1,1.5,2,2.5,3,3.5,4,4.5,5,5.5,6,6.5,7],"labelExpr":"datum.value % 1 == 0 ? format(datum.value, 'd') : ''","tickSize":{"condition":{"test":"datum.value % 1 == 0","value":6},"value":3},"labelOverlap":false,"labelFlush":false,"labelPadding":2,"title":"Y (%)","titlePadding":16}}
},
"layer":[
{"transform":[{"filter":"datum.s=='I'"}],"mark":{"type":"point","shape":"M-1.6,0H1.6M0,-1V1","filled":false,"color":"black","size":64,"strokeWidth":1.2,"opacity":1},
 "encoding":{
  "x":{"field":"A","type":"quantitative","scale":{"domain":[77,175],"nice":false,"zero":false},"axis":{"orient":"top","values":[77,78,79,80,81,82,83,84,85,86,87,88,89,90,91,92,93,94,95,96,97,98,99,100,101,102,103,104,105,106,107,108,109,110,111,112,113,114,115,116,117,118,119,120,121,122,123,124,125,126,127,128,129,130,131,132,133,134,135,136,137,138,139,140,141,142,143,144,145,146,147,148,149,150,151,152,153,154,155,156,157,158,159,160,161,162,163,164,165,166,167,168,169,170,171,172,173,174,175],"labels":false,"tickSize":{"condition":{"test":"datum.value % 10 == 0","value":-6},"value":-3},"title":null}},
  "y":{"field":"Y","type":"quantitative","scale":{"domain":[0,7],"nice":false,"zero":false},"axis":{"orient":"right","values":[0,0.5,1,1.5,2,2.5,3,3.5,4,4.5,5,5.5,6,6.5,7],"labels":false,"tickSize":{"condition":{"test":"datum.value % 1 == 0","value":-6},"value":-3},"title":null}}}},
{"transform":[{"filter":"datum.s=='I'"}],"mark":{"type":"point","shape":"square","filled":true,"color":"black","size":55,"opacity":1}},
{"transform":[{"filter":"datum.s=='o'"}],"mark":{"type":"line","color":"blue","strokeWidth":1.2,"point":{"shape":"diamond","filled":true,"color":"blue","size":85,"opacity":1}}},
{"transform":[{"filter":"datum.s=='e'"}],"mark":{"type":"line","color":"red","strokeWidth":1.2,"point":{"shape":"circle","filled":true,"color":"red","size":50,"opacity":1}}},
{"transform":[{"filter":"datum.s=='a'"}],"mark":{"type":"line","color":"#00ee00","strokeWidth":1.6,"point":{"shape":"square","filled":false,"color":"#00ee00","fill":"white","size":50,"strokeWidth":1.5,"opacity":1}}},
{"transform":[{"filter":"datum.A == 100"}],"mark":{"type":"point","opacity":0,"filled":true},
 "encoding":{
  "fill":{"field":"s","type":"nominal","scale":{"domain":["I","a","e","o"],"range":["black","white","red","blue"]},
   "legend":{"title":null,"orient":"none","legendX":7,"legendY":5,"labelFont":"Liberation Sans","labelFontSize":16,"labelColor":"black","symbolSize":64,"symbolStrokeWidth":1.5,"symbolOpacity":1,"labelOffset":18,"rowPadding":3,"labelExpr":"datum.label == 'I' ? 'IRMM Hambsch et al.' : datum.label == 'a' ? 'all Z' : datum.label == 'e' ? 'even Z' : 'odd Z'"}},
  "stroke":{"field":"s","type":"nominal","scale":{"domain":["I","a","e","o"],"range":["black","#00ee00","red","blue"]},
   "legend":{"title":null,"orient":"none","legendX":7,"legendY":5,"labelFont":"Liberation Sans","labelFontSize":16,"labelColor":"black","symbolSize":64,"symbolStrokeWidth":1.5,"symbolOpacity":1,"labelOffset":18,"rowPadding":3,"labelExpr":"datum.label == 'I' ? 'IRMM Hambsch et al.' : datum.label == 'a' ? 'all Z' : datum.label == 'e' ? 'even Z' : 'odd Z'"}},
  "shape":{"field":"s","type":"nominal","scale":{"domain":["I","a","e","o"],"range":["M-1,-1H1V1H-1Z","M-5,0H-1M1,0H5M-1,-1H1V1H-1Z","M-5,0H-1M1,0H5M-1,0A1,1 0 1,1 1,0A1,1 0 1,1 -1,0Z","M-5,0H-1.3M1.3,0H5M0,-1.3L1.3,0L0,1.3L-1.3,0Z"]},
   "legend":{"title":null,"orient":"none","legendX":7,"legendY":5,"labelFont":"Liberation Sans","labelFontSize":16,"labelColor":"black","symbolSize":64,"symbolStrokeWidth":1.5,"symbolOpacity":1,"labelOffset":18,"rowPadding":3,"labelExpr":"datum.label == 'I' ? 'IRMM Hambsch et al.' : datum.label == 'a' ? 'all Z' : datum.label == 'e' ? 'even Z' : 'odd Z'"}}}}
]
},
{"data":{"values":[{"t":"Cf(SF)"}]},"mark":{"type":"text","align":"right","baseline":"alphabetic","fontSize":25,"fontWeight":"bold","color":"black"},
 "encoding":{"x":{"datum":172,"type":"quantitative","axis":null},"y":{"datum":5.79,"type":"quantitative","axis":null},"text":{"field":"t"}}},
{"data":{"values":[{"t":"252"}]},"mark":{"type":"text","align":"right","baseline":"alphabetic","fontSize":13,"fontWeight":"bold","dx":-77,"color":"black"},
 "encoding":{"x":{"datum":172,"type":"quantitative","axis":null},"y":{"datum":6.36,"type":"quantitative","axis":null},"text":{"field":"t"}}}
]
}
],
"resolve":{"scale":{"fill":"independent","stroke":"independent","shape":"independent","x":"independent","y":"independent"},"legend":{"fill":"independent","stroke":"independent","shape":"independent"}}
}
